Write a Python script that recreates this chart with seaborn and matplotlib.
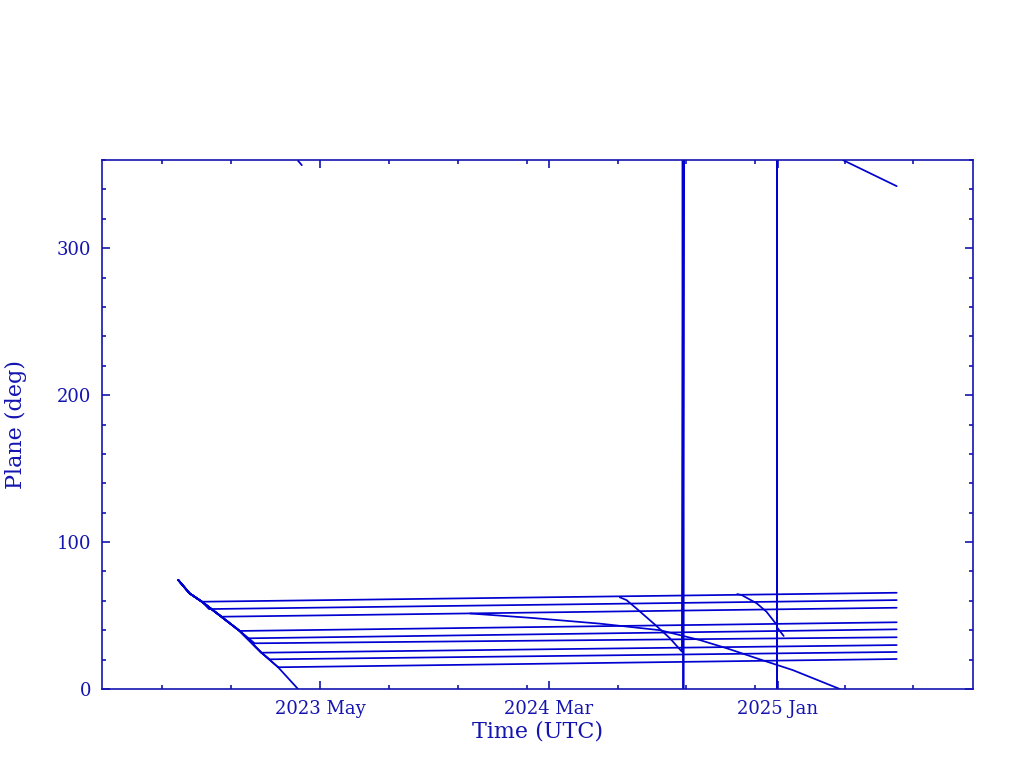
import numpy as np
import pandas as pd
import matplotlib
matplotlib.use("Agg")
import matplotlib.pyplot as plt
import seaborn as sns

# drift of the launch batch down to the planes (this one re-entered)
drift_time = ["2022-10-23", "2022-11-07", "2022-11-24", "2022-12-20",
              "2023-01-13", "2023-02-11", "2023-03-05", "2023-04-01"]
drift_plane = [74.1, 65.1, 59.2, 49.0, 39.5, 24.7, 15.0, 0.0]

# wrap of the re-entered one just after crossing 0 deg
wrap_time = ["2023-04-01", "2023-04-06"]
wrap_plane = [359.5, 356.5]

# planes reached: where each leaves the drift, and value at end of record
join_time = ["2022-11-24", "2022-12-03", "2022-12-20", "2023-01-13", "2023-01-24",
             "2023-02-02", "2023-02-11", "2023-02-22", "2023-03-05"]
join_plane = [59.4, 54.4, 49.2, 39.5, 34.5, 31.1, 24.7, 20.2, 14.8]
end_plane = [65.5, 60.5, 55.3, 45.4, 40.6, 35.2, 29.9, 25.2, 20.4]
end_time = "2025-06-09"

# satellites leaving plane 1 (with the 0/360 jumps in the record)
leave_a_time = ["2024-06-04", "2024-06-13", "2024-06-26", "2024-07-23", "2024-08-10",
                "2024-08-26", "2024-08-27", "2024-08-28", "2024-08-29"]
leave_a_plane = [62.4, 60.5, 54.9, 42.9, 34.5, 25.4, 360.0, 0.0, 360.0]

leave_b_time = ["2024-11-08", "2024-11-14", "2024-12-04", "2024-12-17", "2024-12-31",
                "2024-12-31", "2024-12-31", "2024-12-31", "2025-01-09"]
leave_b_plane = [64.6, 63.9, 58.3, 52.6, 43.5, 360.0, 0.0, 42.0, 36.1]

# satellite leaving plane 3, slowly then faster, wrapping at 0 deg
leave_c_time = ["2023-11-17", "2024-02-09", "2024-05-08", "2024-07-28", "2024-09-19",
                "2024-10-25", "2024-12-08", "2025-01-21", "2025-03-25"]
leave_c_plane = [51.4, 48.3, 44.5, 40.0, 33.3, 27.7, 20.2, 12.9, 0.0]
leave_c_wrap_time = ["2025-03-29", "2025-06-09"]
leave_c_wrap_plane = [360.0, 342.2]

major_ticks = ["2023-05-01", "2024-03-01", "2025-01-01"]
major_labels = ["2023 May", "2024 Mar", "2025 Jan"]
minor_ticks = ["2022-10-01", "2023-01-01", "2023-08-01", "2023-11-01", "2024-02-01",
               "2024-06-01", "2024-09-01", "2024-12-01", "2025-04-01", "2025-07-01"]
x_range = ["2022-07-13", "2025-09-19"]

rows = []


def add(name, times, values):
    for t, v in zip(times, values):
        rows.append((name, pd.Timestamp(t), v))


add("drift", drift_time, drift_plane)
add("wrap", wrap_time, wrap_plane)
for i, (t0, v0, v1) in enumerate(zip(join_time, join_plane, end_plane)):
    above = [(t, v) for t, v in zip(drift_time, drift_plane) if v > v0]
    add("plane%d" % (i + 1), [t for t, _ in above] + [t0, end_time],
        [v for _, v in above] + [v0, v1])
add("leave_a", leave_a_time, leave_a_plane)
add("leave_b", leave_b_time, leave_b_plane)
add("leave_c", leave_c_time, leave_c_plane)
add("leave_c_wrap", leave_c_wrap_time, leave_c_wrap_plane)
df = pd.DataFrame(rows, columns=["sat", "time", "plane"])

line_color = "#0000d0"
axis_color = "#1414b0"

sns.set_style("white")
plt.rcParams["font.family"] = ["DejaVu Serif", "DejaVu Sans"]

fig = plt.figure(figsize=(10.24, 7.68), dpi=100)
ax = fig.add_axes([102 / 1024, 79 / 768, 871 / 1024, 529 / 768])
sns.lineplot(data=df, x="time", y="plane", units="sat", estimator=None, sort=False,
             color=line_color, lw=1.25, ax=ax)

ax.set_xlim(pd.to_datetime(x_range))
ax.set_ylim(0, 360)
ax.set_xticks(pd.to_datetime(major_ticks))
ax.set_xticklabels(major_labels)
ax.set_xticks(pd.to_datetime(minor_ticks), minor=True)
ax.set_yticks([0, 100, 200, 300])
ax.set_yticks(np.arange(0, 361, 20), minor=True)

ax.tick_params(which="both", direction="in", bottom=True, left=True, top=True, right=True,
               color=axis_color, labelcolor=axis_color, width=1.2, labelsize=13, pad=8)
ax.tick_params(which="major", length=6)
ax.tick_params(which="minor", length=3)
for s in ax.spines.values():
    s.set_color(axis_color)
    s.set_linewidth(1.2)

ax.set_xlabel("Time (UTC)", fontsize=16, color=axis_color)
ax.set_ylabel("Plane (deg)", fontsize=16, color=axis_color)
ax.xaxis.set_label_coords(0.5, -0.06)
ax.yaxis.set_label_coords(-0.086, 0.5)

fig.savefig("out.png", dpi=100, facecolor="white")
